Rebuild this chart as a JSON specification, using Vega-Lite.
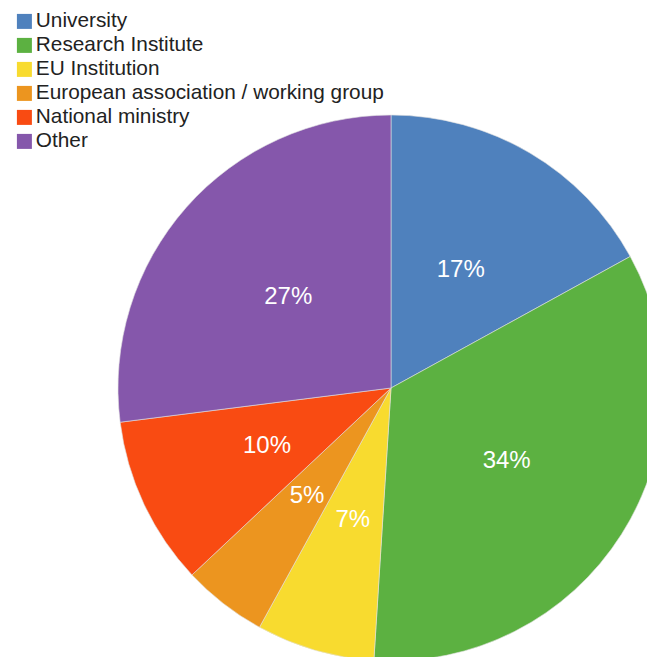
{
  "$schema": "https://vega.github.io/schema/vega-lite/v6.json",
  "width": 647,
  "height": 657,
  "padding": 0,
  "autosize": "none",
  "background": "#ffffff",
  "config": {"view": {"stroke": null}},
  "data": {
    "values": [
      {"category": "University", "share": 0.17, "rank": 1},
      {"category": "Research Institute", "share": 0.34, "rank": 2},
      {"category": "EU Institution", "share": 0.07, "rank": 3},
      {"category": "European association / working group", "share": 0.05, "rank": 4},
      {"category": "National ministry", "share": 0.10, "rank": 5},
      {"category": "Other", "share": 0.27, "rank": 6}
    ]
  },
  "encoding": {
    "theta": {"field": "share", "type": "quantitative", "stack": true},
    "order": {"field": "rank", "type": "quantitative"}
  },
  "layer": [
    {
      "mark": {"type": "arc", "x": 391, "y": 388, "outerRadius": 273, "stroke": "#e0e0e0", "strokeWidth": 0.6},
      "encoding": {
        "color": {
          "field": "category",
          "type": "nominal",
          "scale": {
            "domain": ["University", "Research Institute", "EU Institution", "European association / working group", "National ministry", "Other"],
            "range": ["#4f81bd", "#5cb141", "#f8db2f", "#ec951f", "#f94b12", "#8557ab"]
          },
          "legend": {
            "orient": "none",
            "legendX": 14,
            "legendY": 11,
            "title": null,
            "padding": 0,
            "symbolType": "square",
            "symbolSize": 225,
            "symbolStrokeWidth": 0,
            "labelFont": "Liberation Sans",
            "labelFontSize": 20.8,
            "labelColor": "#222222",
            "labelOffset": 1,
            "labelLimit": 500,
            "rowPadding": 2,
            "encode": {
              "labels": {
                "update": {
                  "dy": {"condition": {"test": "datum.value === 'Other'", "value": -20}, "value": 0}
                },
                "dy": {"condition": {"test": "datum.value === 'Other'", "value": -20}, "value": 0}
              }
            }
          }
        }
      }
    },
    {
      "mark": {"type": "text", "x": 391, "y": 388, "radius": 137, "font": "Liberation Sans", "fontSize": 24, "fill": "#ffffff"},
      "encoding": {
        "text": {"field": "share", "type": "quantitative", "format": ".0%"},
        "detail": {"field": "category"}
      }
    }
  ]
}
